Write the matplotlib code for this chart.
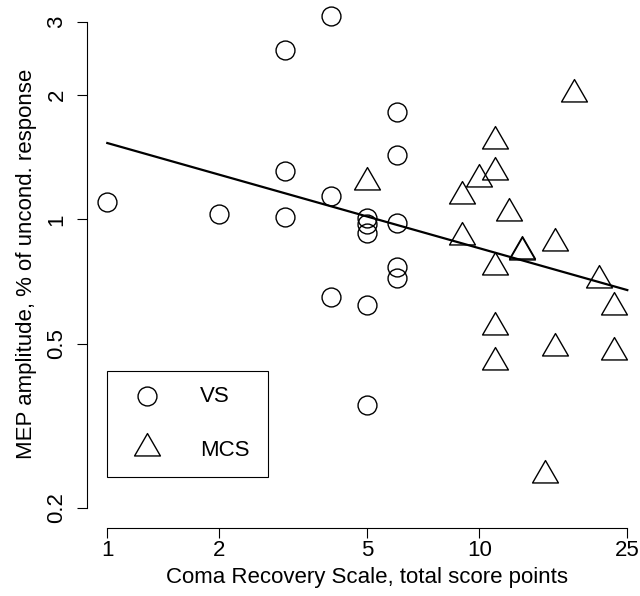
import matplotlib
matplotlib.use("Agg")
import matplotlib.pyplot as plt
from matplotlib.path import Path
from matplotlib.lines import Line2D
from matplotlib.patches import Rectangle

plt.rcParams['font.family'] = ['Liberation Sans', 'DejaVu Sans']

# VS patients (circles)
vs_crs = [1, 2, 3, 3, 3, 4, 4, 4, 5, 5, 5, 5, 5, 6, 6, 6, 6, 6]
vs_mep = [1.10, 1.03, 2.57, 1.31, 1.015, 3.11, 1.14, 0.648,
          1.006, 0.974, 0.925, 0.62, 0.355, 1.815, 1.43, 0.978, 0.768, 0.72]

# MCS patients (triangles)
mcs_crs = [5, 9, 9, 10, 11, 11, 11, 11, 11, 12, 13, 13, 15, 16, 16, 18, 21, 23, 23]
mcs_mep = [1.23, 1.14, 0.908, 1.25, 1.55, 1.30, 0.767, 0.55, 0.451, 1.037,
           0.84, 0.835, 0.241, 0.875, 0.488, 2.01, 0.714, 0.614, 0.476]

# fitted line (log-log regression), end points
fit_crs = [1, 25]
fit_mep = [1.53, 0.674]

xticks = [1, 2, 5, 10, 25]
yticks = [0.2, 0.5, 1, 2, 3]

FS = 16
W, H = 640, 596
fig = plt.figure(figsize=(W / 100, H / 100), dpi=100)
ax = fig.add_axes([87 / W, 68 / H, 561 / W, 528 / H])

# R-style triangle: equilateral, centred on its centroid
tri = Path([(0, 1), (-0.866, -0.5), (0.866, -0.5), (0, 1)],
           [Path.MOVETO, Path.LINETO, Path.LINETO, Path.CLOSEPOLY])

ax.plot(vs_crs, vs_mep, ls='none', marker='o', ms=13.6, mfc='none',
        mec='black', mew=1.0)
ax.plot(mcs_crs, mcs_mep, ls='none', marker=tri, ms=21.5, mfc='none',
        mec='black', mew=1.0)
ax.plot(fit_crs, fit_mep, color='black', lw=1.6)

ax.set_xscale('log')
ax.set_yscale('log')
ax.set_xlim(0.882, 28.42)
ax.set_ylim(0.1789, 3.396)
ax.minorticks_off()
ax.set_xticks(xticks)
ax.set_xticklabels([str(t) for t in xticks])
ax.set_yticks(yticks)
ax.set_yticklabels([str(t) for t in yticks], rotation=90, va='center')

for s in ['top', 'right']:
    ax.spines[s].set_visible(False)
ax.spines['left'].set_bounds(0.2, 3)
ax.spines['bottom'].set_bounds(1, 25)
for s in ['left', 'bottom']:
    ax.spines[s].set_linewidth(0.8)
ax.tick_params(axis='both', length=7, width=0.8, labelsize=FS)
ax.tick_params(axis='x', pad=2)
ax.tick_params(axis='y', pad=7)

ax.set_xlabel('Coma Recovery Scale, total score points', fontsize=FS)
ax.set_ylabel('MEP amplitude, % of uncond. response', fontsize=FS)
ax.xaxis.set_label_coords(0.5, -0.074)
ax.yaxis.set_label_coords(-0.090, 0.5)

# legend box
fig.add_artist(Rectangle((107 / W, (H - 477) / H), 161 / W, 106 / H,
                         transform=fig.transFigure, fill=False,
                         lw=0.8, ec='black'))
fig.add_artist(Line2D([147 / W], [(H - 396) / H], transform=fig.transFigure,
                      ls='none', marker='o', ms=13.6, mfc='none',
                      mec='black', mew=1.0))
fig.add_artist(Line2D([147 / W], [(H - 448) / H], transform=fig.transFigure,
                      ls='none', marker=tri, ms=21.5, mfc='none',
                      mec='black', mew=1.0))
fig.text(200 / W, (H - 396) / H, 'VS', fontsize=FS, va='center')
fig.text(200 / W, (H - 450) / H, 'MCS', fontsize=FS, va='center')

fig.savefig('out.png', dpi=100)
